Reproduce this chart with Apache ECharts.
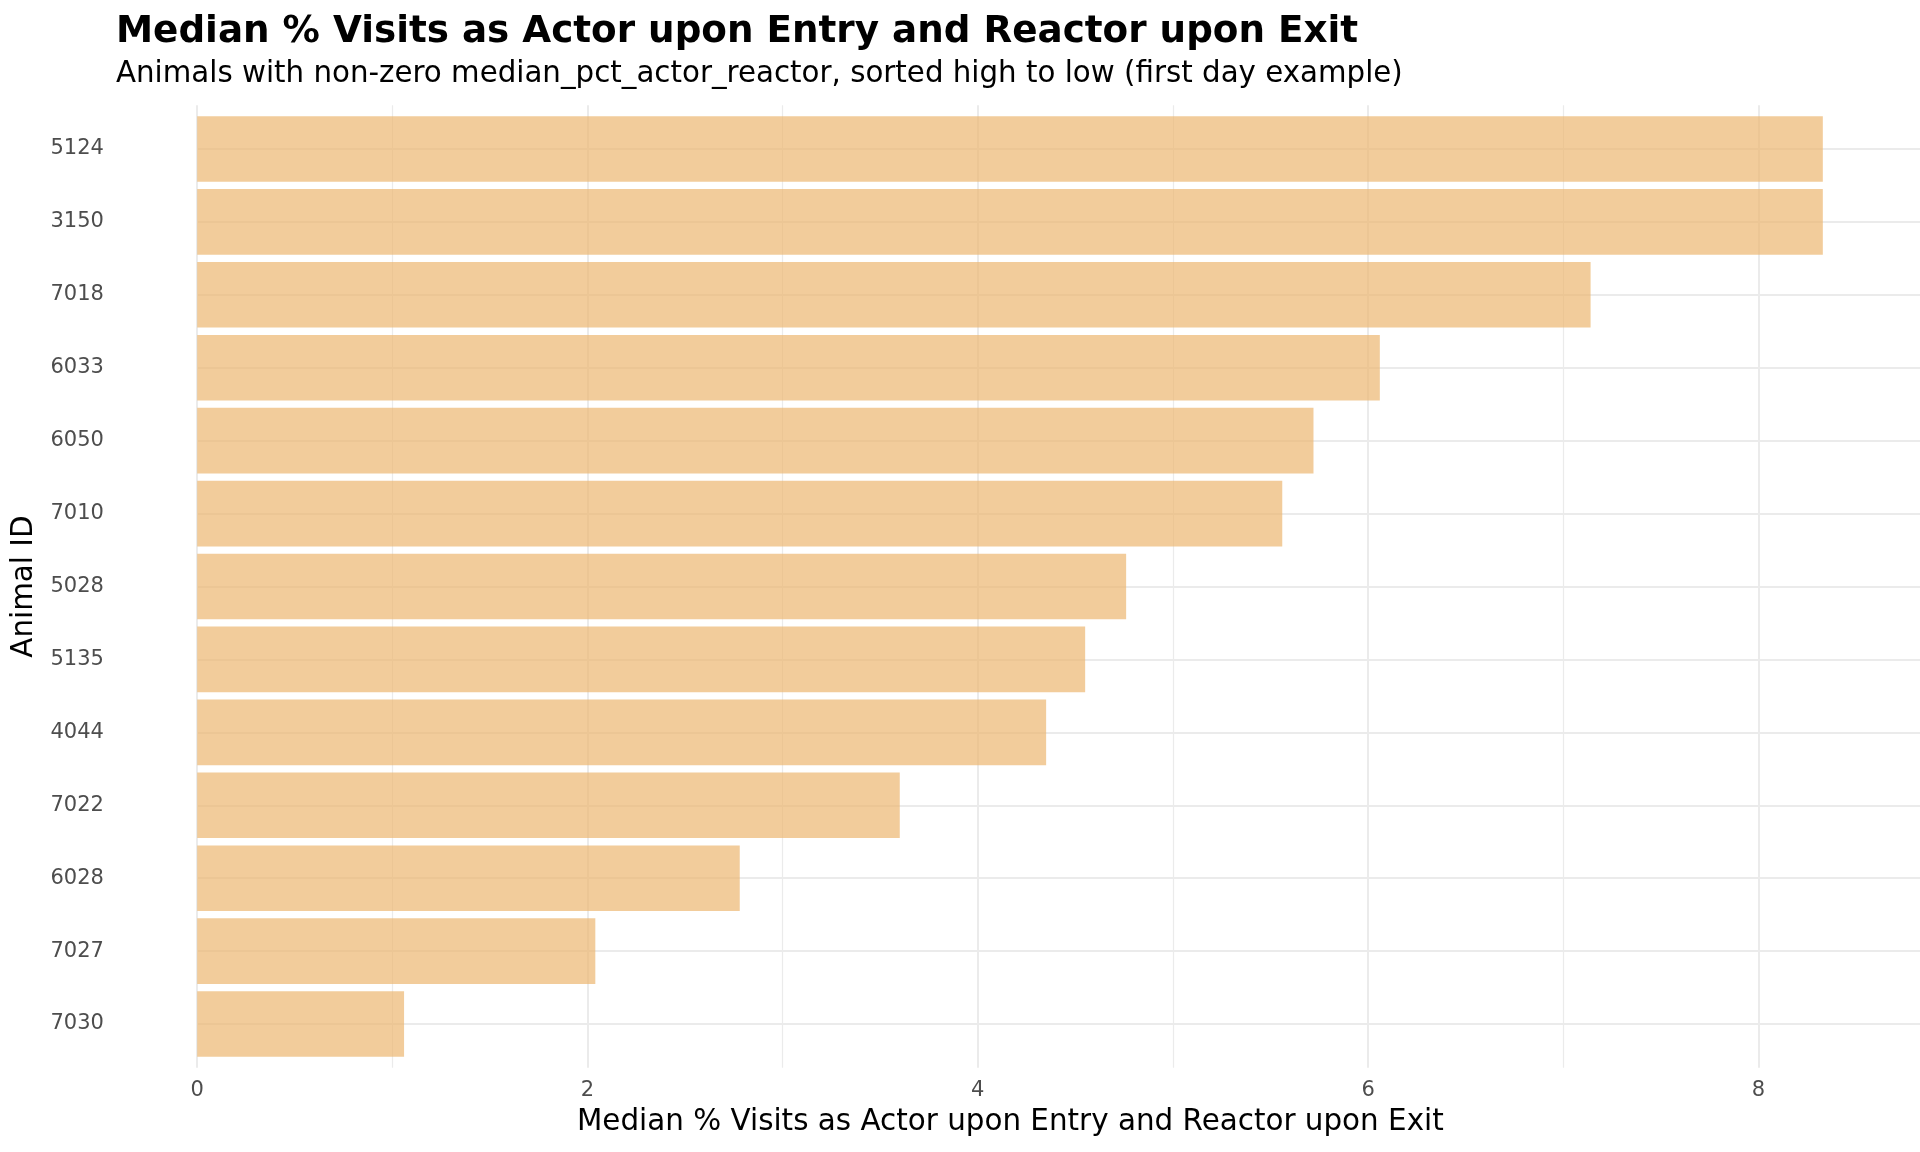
<!DOCTYPE html>
<html>
<head>
<meta charset="utf-8">
<script src="https://cdn.jsdelivr.net/npm/echarts@6/dist/echarts.min.js"></script>
<style>
html,body{margin:0;padding:0;background:#fff;}
#c{width:1920px;height:1152px;}
</style>
</head>
<body>
<div id="c"></div>
<script>
const animalIds = ['5124','3150','7018','6033','6050','7010','5028','5135','4044','7022','6028','7027','7030'];
const medianPct = [8.33, 8.33, 7.14, 6.06, 5.72, 5.56, 4.76, 4.55, 4.35, 3.60, 2.78, 2.04, 1.06];
const xTicks = [0, 2, 4, 6, 8];

const titleText = 'Median % Visits as Actor upon Entry and Reactor upon Exit';
const subtitleText = 'Animals with non-zero median_pct_actor_reactor, sorted high to low (first day example)';
const xTitle = 'Median % Visits as Actor upon Entry and Reactor upon Exit';
const yTitle = 'Animal ID';

const FONT = 'DejaVu Sans';
const chart = echarts.init(document.getElementById('c'), null, {renderer: 'canvas'});

chart.setOption({
  backgroundColor: '#ffffff',
  animation: false,
  title: [
    {text: titleText, left: 116, top: 13.6, padding: 0,
     textStyle: {fontFamily: FONT, fontSize: 37.3, fontWeight: 'bold', color: '#000', lineHeight: 37.3}},
    {text: subtitleText, left: 116, top: 60, padding: 0,
     textStyle: {fontFamily: FONT, fontSize: 29.3, fontWeight: 'normal', color: '#000', lineHeight: 29.3}}
  ],
  grid: [
    {left: 115.9, right: 15.2, top: 112.5, bottom: 91.5, containLabel: false},
    {left: 197.2, right: 161.6, top: 105.2, bottom: 84.3, containLabel: false}
  ],
  xAxis: [
    {type: 'value', gridIndex: 0, min: -0.41667, max: 8.75,
     axisLine: {show: false}, axisTick: {show: false}, axisLabel: {show: false}, splitLine: {show: false},
     name: xTitle, nameLocation: 'middle', nameGap: 47.5,
     nameTextStyle: {fontFamily: FONT, fontSize: 29.4, color: '#000', lineHeight: 29.4}},
    {type: 'value', gridIndex: 1, min: xTicks[0], max: xTicks[xTicks.length - 1], interval: 2,
     axisLine: {show: false}, axisTick: {show: false},
     axisLabel: {fontFamily: FONT, fontSize: 21, color: '#4D4D4D', margin: 12, lineHeight: 21},
     splitLine: {show: true, lineStyle: {color: '#EBEBEB', width: 2}},
     minorTick: {show: false, splitNumber: 2},
     minorSplitLine: {show: true, lineStyle: {color: '#EBEBEB', width: 1.2}}}
  ],
  yAxis: [
    {type: 'category', gridIndex: 0, data: animalIds, inverse: true,
     axisLine: {show: false},
     axisTick: {show: true, alignWithLabel: true, inside: true, length: 1789,
                lineStyle: {color: '#EBEBEB', width: 2}},
     axisLabel: {fontFamily: FONT, fontSize: 21, color: '#4D4D4D', margin: 12, padding: [4, 0, 0, 0]},
     splitLine: {show: false},
     name: yTitle, nameLocation: 'middle', nameRotate: 90, nameGap: 74,
     nameTextStyle: {fontFamily: FONT, fontSize: 29.4, color: '#000', lineHeight: 29.4}},
    {type: 'value', gridIndex: 1, show: false}
  ],
  series: [{
    type: 'bar',
    xAxisIndex: 0, yAxisIndex: 0,
    data: medianPct,
    barWidth: '90%',
    itemStyle: {color: 'rgba(236,183,112,0.7)'}
  }]
});
</script>
</body>
</html>
